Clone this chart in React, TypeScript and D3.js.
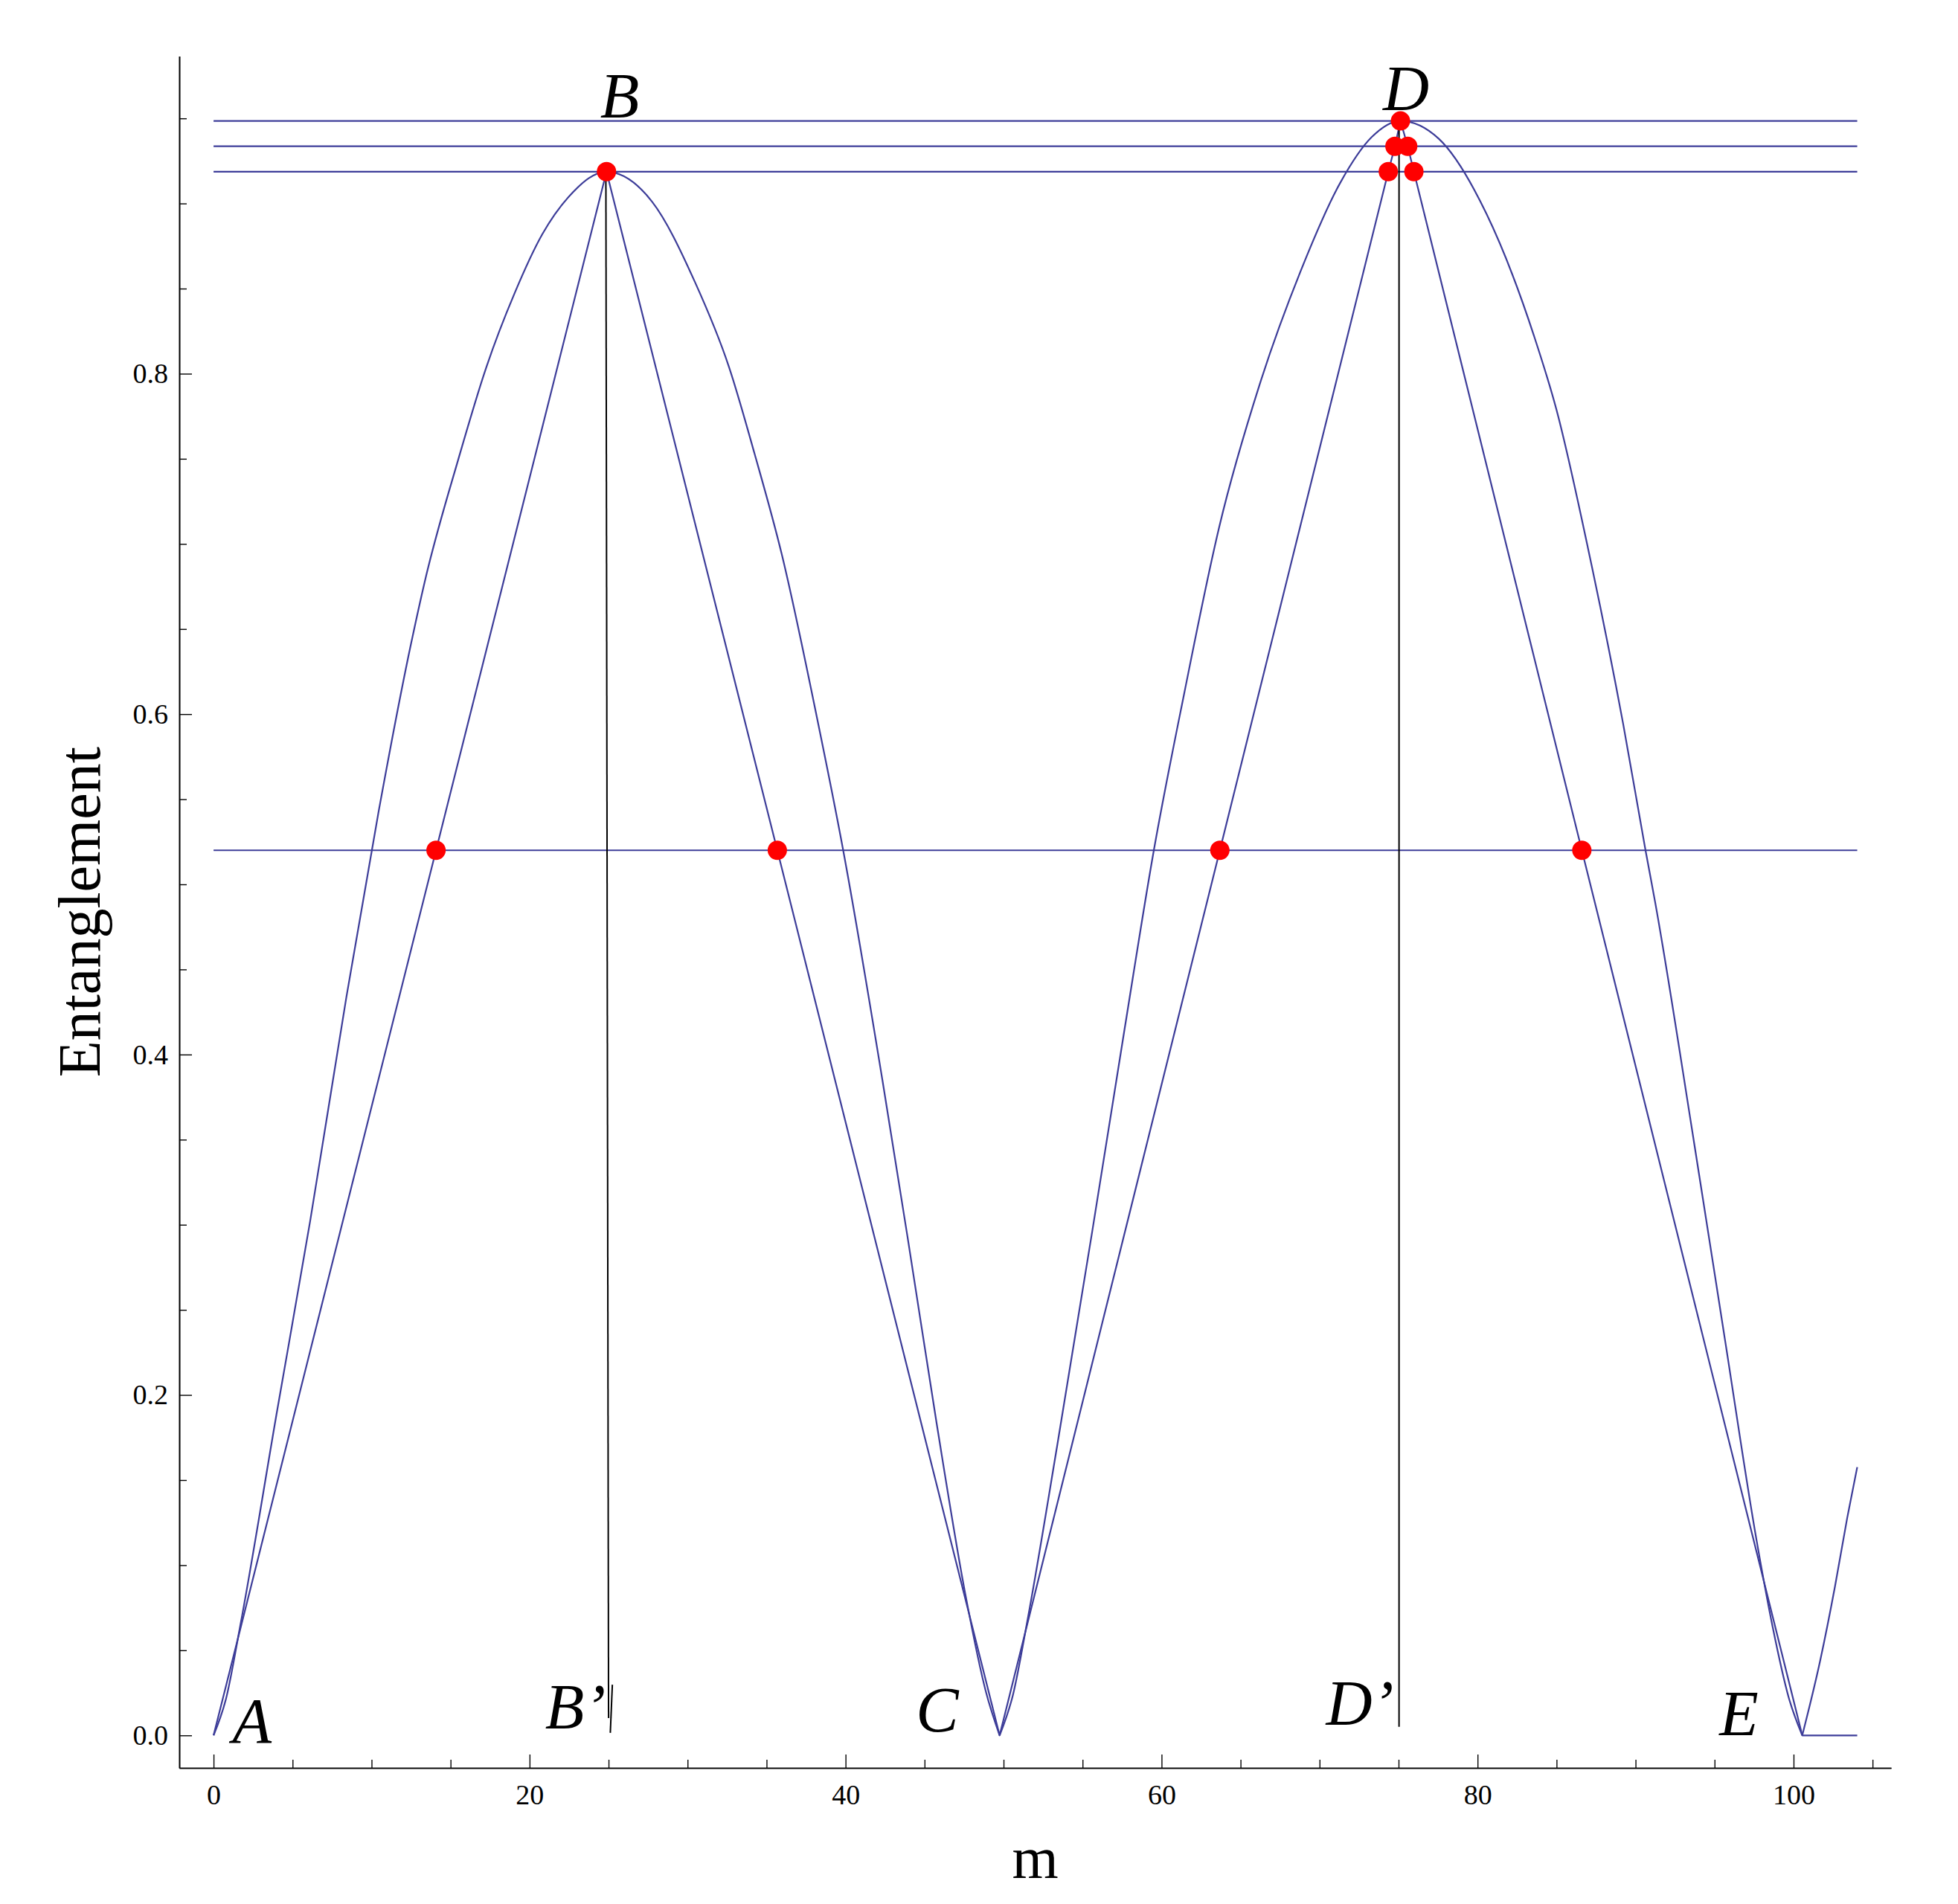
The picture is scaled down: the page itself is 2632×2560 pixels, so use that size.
import { useEffect, useRef } from 'react';
import * as d3 from 'd3';

const W = 2632;
const H = 2560;

// outer (rounded) curve
const outerM = [0, 0.8, 1.68, 3.99, 6.11, 8.41, 10.45, 12.49, 13.37, 15.5, 17.27, 19.04, 20.81, 22.58, 24.87,
  27.76, 30.46, 32.62, 34.24, 35.96, 38.21, 39.83, 42.35, 43.97, 45.77, 47.58, 48.9, 49.75,
  50.6, 51.5, 53.39, 55.61, 57.66, 59.54, 61.43, 63.65, 66.22, 68.79, 71.3, 73.3, 75.12,
  77.55, 80.56, 83.58, 84.99, 87.0, 89.22, 90.63, 91.23, 93.64, 95.65, 97.67, 98.67, 99.7, 100.55,
  101.68, 102.62, 103.4, 104.03];
const outerE = [0, 0.022, 0.064, 0.189, 0.302, 0.434, 0.543, 0.641, 0.678, 0.75, 0.804, 0.847, 0.882, 0.905, 0.9187,
  0.901, 0.854, 0.804, 0.753, 0.694, 0.597, 0.521, 0.384, 0.29, 0.183, 0.083, 0.025, 0,
  0.024, 0.067, 0.17, 0.296, 0.415, 0.5215, 0.612, 0.71, 0.794, 0.86, 0.912, 0.939, 0.9485,
  0.938, 0.894, 0.822, 0.779, 0.697, 0.594, 0.52, 0.49, 0.352, 0.233, 0.114, 0.064, 0.022, 0,
  0.0437, 0.0874, 0.128, 0.1576];
// the outer curve touches zero here and has a corner
const outerZeros = [0, 49.75, 100.55, 104.03];

// inner (almost triangular) curve
const innerM = [0, 14.08, 24.87, 35.68, 49.75, 63.69, 74.35, 74.77, 75.12, 75.58, 75.97, 86.6, 100.55, 104.03];
const innerE = [0, 0.52, 0.9187, 0.52, 0, 0.52, 0.9187, 0.9336, 0.9485, 0.9336, 0.9187, 0.52, 0, 0];

// horizontal reference levels
const levelE = [0.9485, 0.9336, 0.9187, 0.52];
const levelFrom = 0;
const levelTo = 104.03;

// red points
const dotM = [24.87, 14.08, 35.68, 63.69, 86.6, 75.12, 74.77, 75.58, 74.35, 75.97];
const dotE = [0.9187, 0.52, 0.52, 0.52, 0.52, 0.9485, 0.9336, 0.9336, 0.9187, 0.9187];

// black drop lines [m1, e1, m2, e2]
const dropLines = [
  [24.83, 0.9167, 25.0, 0.0102],
  [25.24, 0.0298, 25.11, 0.0015],
  [75.03, 0.946, 75.03, 0.005],
];

// point labels
const labelText = ['A', 'B', 'B\u2019', 'C', 'D', 'D\u2019', 'E'];
const labelM = [2.43, 25.71, 22.9, 45.81, 75.47, 72.55, 96.54];
const labelE = [-0.0042, 0.9505, 0.0041, 0.0023, 0.9547, 0.0063, 0.0];

const xMajor = [0, 20, 40, 60, 80, 100];
const xMinor = [5, 10, 15, 25, 30, 35, 45, 50, 55, 65, 70, 75, 85, 90, 95, 105];
const yMajor = [0, 0.2, 0.4, 0.6, 0.8];
const yMinor = [0.05, 0.1, 0.15, 0.25, 0.3, 0.35, 0.45, 0.5, 0.55, 0.65, 0.7, 0.75, 0.85, 0.9, 0.95];

const BLUE = '#3d3d99';
const SERIF = '"Liberation Serif", "Times New Roman", serif';

export default function App() {
  const xAxisRef = useRef<SVGGElement>(null);
  const yAxisRef = useRef<SVGGElement>(null);

  const x = d3.scaleLinear().domain([-2.17, 106.17]).range([241, 2542]);
  const y = d3.scaleLinear().domain([-0.0191, 0.9866]).range([2377, 75.4]);

  useEffect(() => {
    const gx = d3.select(xAxisRef.current);
    gx.selectAll('*').remove();
    gx.append('g').call(d3.axisBottom(x).tickValues(xMinor).tickSize(-11).tickSizeOuter(0).tickFormat(() => ''));
    gx.append('g').call(d3.axisBottom(x).tickValues(xMajor).tickSize(-18).tickSizeOuter(0).tickPadding(22)
      .tickFormat((d) => String(d)));

    const gy = d3.select(yAxisRef.current);
    gy.selectAll('*').remove();
    gy.append('g').call(d3.axisLeft(y).tickValues(yMinor).tickSize(-10).tickSizeOuter(0).tickFormat(() => ''));
    gy.append('g').call(d3.axisLeft(y).tickValues(yMajor).tickSize(-17).tickSizeOuter(0).tickPadding(15)
      .tickFormat((d) => (d as number).toFixed(1)));

    [gx, gy].forEach((g) => {
      g.selectAll('path.domain').attr('stroke', '#000').attr('stroke-width', 1.6);
      g.selectAll('line').attr('stroke', '#000').attr('stroke-width', 1.4);
      g.selectAll('text').attr('font-family', SERIF).attr('font-size', 38).attr('fill', '#000');
    });
  }, []);

  // outer curve: smooth arches, one path per arch so the zeros keep their corner
  const outerLine = d3.line<[number, number]>().x((d) => x(d[0])).y((d) => y(d[1])).curve(d3.curveMonotoneX);
  const outerPts: [number, number][] = outerM.map((m, i) => [m, outerE[i]]);
  const outerArches = d3.pairs(outerZeros).map(([a, b]) =>
    outerLine(outerPts.filter((p) => p[0] >= a && p[0] <= b)) || '');
  const innerPath = d3.line<number>().x((d) => x(d)).y((d, i) => y(innerE[i]))(innerM) || '';

  return (
    <div style={{ position: 'absolute', left: 0, top: 0 }}>
      <svg width={W} height={H} style={{ display: 'block', background: '#fff' }}>
        <rect width={W} height={H} fill="#fff" />
        {levelE.map((e, i) => (
          <line key={'lv' + i} x1={x(levelFrom)} x2={x(levelTo)} y1={y(e)} y2={y(e)}
            stroke={BLUE} strokeWidth={2.2} />
        ))}
        {outerArches.map((d, i) => (
          <path key={'oa' + i} d={d} fill="none" stroke={BLUE} strokeWidth={2.2} strokeLinejoin="round" />
        ))}
        <path d={innerPath} fill="none" stroke={BLUE} strokeWidth={2.2} strokeLinejoin="round" />
        {dropLines.map((l, i) => (
          <line key={'dl' + i} x1={x(l[0])} y1={y(l[1])} x2={x(l[2])} y2={y(l[3])}
            stroke="#000" strokeWidth={2} />
        ))}
        {dotM.map((m, i) => (
          <circle key={'pt' + i} cx={x(m)} cy={y(dotE[i])} r={13} fill="#ff0000" />
        ))}
        <g ref={xAxisRef} transform={`translate(0,${2377})`} />
        <g ref={yAxisRef} transform={`translate(${241},0)`} />
        {labelText.map((t, i) => (
          <text key={'lb' + i} x={x(labelM[i])} y={y(labelE[i])} textAnchor="middle"
            fontFamily={SERIF} fontStyle="italic" fontSize={86} fill="#000">{t}</text>
        ))}
        <text x={x(52)} y={2525} textAnchor="middle" fontFamily={SERIF} fontSize={80} fill="#000">m</text>
        <text transform={`translate(134,${y(0.4838)}) rotate(-90)`} textAnchor="middle"
          fontFamily={SERIF} fontSize={80} fill="#000">Entanglement</text>
      </svg>
    </div>
  );
}
